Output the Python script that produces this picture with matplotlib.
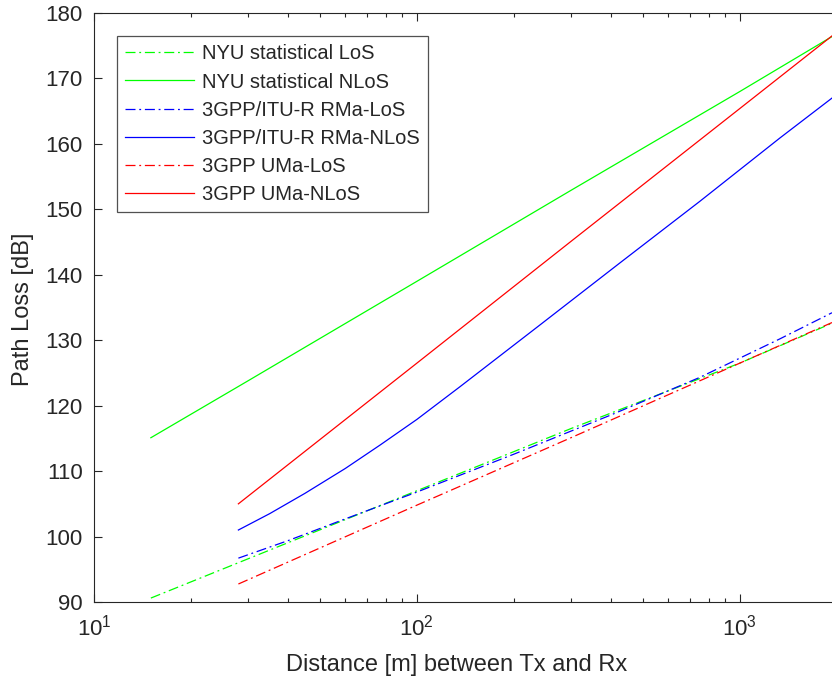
import matplotlib
matplotlib.use("Agg")
import matplotlib.pyplot as plt
from matplotlib.ticker import LogLocator, FixedLocator, FixedFormatter, NullFormatter

plt.rcParams['font.family'] = ['Liberation Sans', 'DejaVu Sans']
plt.rcParams['mathtext.fontset'] = 'custom'
plt.rcParams['mathtext.rm'] = 'Liberation Sans'
plt.rcParams['mathtext.it'] = 'Liberation Sans'

# Distances [m] and path loss [dB] for each model
d_nyu = [15, 30, 100, 300, 1000, 1930]
pl_nyu_los = [90.6, 96.6, 107.0, 116.5, 126.5, 132.6]
pl_nyu_nlos = [115.1, 123.8, 139.0, 152.9, 168.0, 176.4]

d_rma_los = [28, 40, 60, 100, 200, 400, 750, 1330, 1930]
pl_rma_los = [96.7, 99.4, 102.7, 106.8, 112.6, 118.6, 124.3, 130.2, 134.2]

d_rma_nlos = [28, 35, 45, 60, 77, 100, 136, 240, 425, 751, 1331, 1930]
pl_rma_nlos = [101.0, 103.5, 106.6, 110.4, 114.0, 117.9, 122.9, 132.3, 141.8, 151.2, 160.9, 167.0]

d_uma = [28, 100, 300, 1000, 1930]
pl_uma_los = [92.75, 104.8, 115.1, 126.5, 132.7]
pl_uma_nlos = [105.0, 126.5, 145.1, 165.4, 176.5]

legend_labels = ["NYU statistical LoS", "NYU statistical NLoS",
                 "3GPP/ITU-R RMa-LoS", "3GPP/ITU-R RMa-NLoS",
                 "3GPP UMa-LoS", "3GPP UMa-NLoS"]

x_ticks = [10, 100, 1000]
x_ticklabels = [r"$10^{1}$", r"$10^{2}$", r"$10^{3}$"]
y_ticks = [90, 100, 110, 120, 130, 140, 150, 160, 170, 180]

fig = plt.figure(figsize=(8.32, 6.83), dpi=100)
ax = fig.add_axes([94 / 832, 1 - 602 / 683, 1 - 94 / 832, (602 - 13) / 683])

dashdot = (0, (8, 3, 1.5, 3))
lw = 0.9
ax.plot(d_nyu, pl_nyu_los, color=(0, 1, 0), lw=lw, ls=dashdot, label=legend_labels[0])
ax.plot(d_nyu, pl_nyu_nlos, color=(0, 1, 0), lw=lw, ls='-', label=legend_labels[1])
ax.plot(d_rma_los, pl_rma_los, color=(0, 0, 1), lw=lw, ls=dashdot, label=legend_labels[2])
ax.plot(d_rma_nlos, pl_rma_nlos, color=(0, 0, 1), lw=lw, ls='-', label=legend_labels[3])
ax.plot(d_uma, pl_uma_los, color=(1, 0, 0), lw=lw, ls=dashdot, label=legend_labels[4])
ax.plot(d_uma, pl_uma_nlos, color=(1, 0, 0), lw=lw, ls='-', label=legend_labels[5])

ax.set_xscale('log')
ax.set_xlim(10, 1930)
ax.set_ylim(90, 180)

axis_gray = (0.15, 0.15, 0.15)
ax.xaxis.set_major_locator(FixedLocator(x_ticks))
ax.xaxis.set_major_formatter(FixedFormatter(x_ticklabels))
ax.xaxis.set_minor_locator(LogLocator(base=10, subs=range(2, 10)))
ax.xaxis.set_minor_formatter(NullFormatter())
ax.yaxis.set_major_locator(FixedLocator(y_ticks))

ax.tick_params(which='both', direction='in', top=True, right=False,
               colors=axis_gray, labelcolor=axis_gray, width=0.8)
ax.tick_params(which='major', length=6, labelsize=16)
ax.tick_params(which='minor', length=3)
ax.tick_params(axis='x', which='major', pad=9)
ax.tick_params(axis='y', which='major', pad=8)

for side in ('left', 'top', 'bottom'):
    ax.spines[side].set_color(axis_gray)
    ax.spines[side].set_linewidth(0.8)
ax.spines['right'].set_visible(False)

ax.set_xlabel("Distance [m] between Tx and Rx", fontsize=17, color=axis_gray,
              va='center')
ax.set_ylabel("Path Loss [dB]", fontsize=17, color=axis_gray, va='center')
ax.xaxis.set_label_coords((457 - 94) / (832 - 94), -(665 - 602) / 589)
ax.yaxis.set_label_coords(-(94 - 23) / (832 - 94), (602 - 309) / 589)

leg = ax.legend(loc='upper left', bbox_to_anchor=(23 / 738, 1 - 23 / 589),
                fontsize=14.5, frameon=True, fancybox=False, borderaxespad=0,
                handlelength=3.4, handletextpad=0.4, labelspacing=0.45,
                borderpad=0.42)
leg.get_frame().set_edgecolor(axis_gray)
leg.get_frame().set_linewidth(0.9)
for t in leg.get_texts():
    t.set_color(axis_gray)

fig.savefig("out.png", dpi=100)
